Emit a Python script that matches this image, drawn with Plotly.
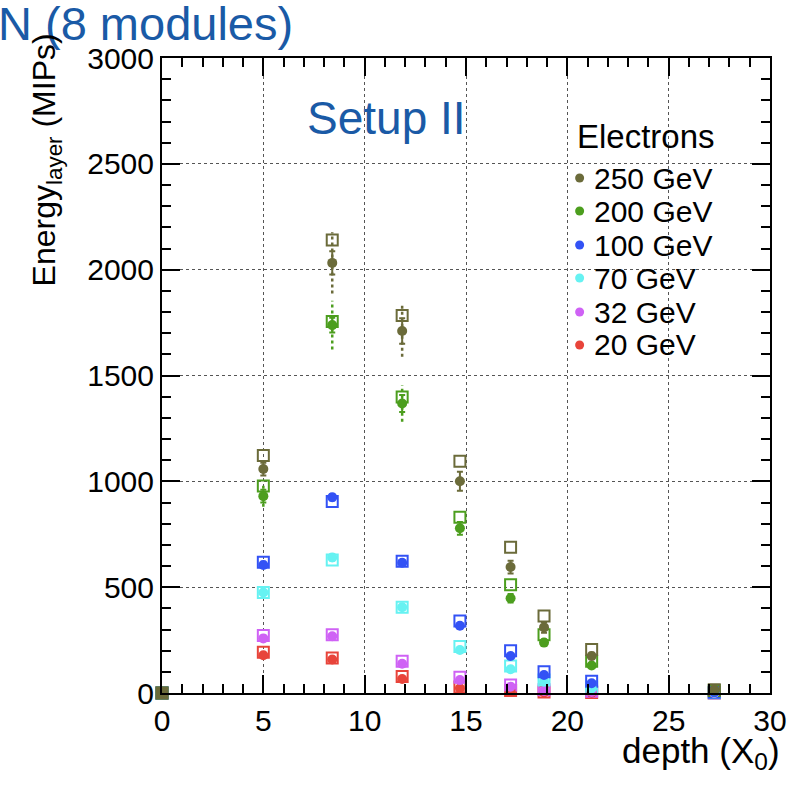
import plotly.graph_objects as go

# ---------------- data ----------------
depth = [0, 5.0, 8.4, 11.85, 14.7, 17.2, 18.85, 21.2, 27.25]

labels = ["250 GeV", "200 GeV", "100 GeV", "70 GeV", "32 GeV", "20 GeV"]
colors = ["#6b6b3a", "#4c9e1e", "#3352f5", "#66f2f2", "#cf62f5", "#e8443a"]

# measured (filled circles); None = no point
data_250 = [None, 1058, 2032, 1710, 1000, 595, 310, 175, 15]
data_200 = [None, 930, 1738, 1368, 778, 448, 238, 130, 12]
data_100 = [None, 605, 925, 615, 318, 175, 85, 46, 3]
data_70 = [None, 475, 640, 405, 203, 112, 53, 22, 1]
data_32 = [None, 258, 268, 138, 61, 30, 10, 5, 0]
data_20 = [None, 178, 158, 66, 22, 8, 3, 1, 0]

# simulation (open squares)
sim_250 = [0, 1122, 2140, 1783, 1095, 688, 364, 206, 15]
sim_200 = [0, 978, 1755, 1398, 830, 512, 275, 150, 12]
sim_100 = [0, 618, 905, 622, 340, 200, 100, 55, 3]
sim_70 = [0, 475, 628, 405, 220, 128, 62, 28, 1]
sim_32 = [0, 272, 275, 150, 75, 38, 15, 8, 0]
sim_20 = [0, 192, 165, 78, 28, 12, 5, 2, 0]

# statistical errors on measured points
err_250 = [0, 30, 55, 60, 45, 30, 25, 15, 0]
err_200 = [0, 30, 35, 40, 30, 20, 15, 10, 0]
err_100 = [0, 15, 15, 12, 10, 8, 5, 3, 0]
err_70 = [0, 12, 15, 10, 10, 8, 5, 3, 0]
err_32 = [0, 12, 10, 10, 8, 5, 3, 2, 0]
err_20 = [0, 12, 10, 8, 5, 3, 2, 1, 0]

# systematic errors (dotted)
sys_250 = [0, 0, 145, 122, 0, 0, 0, 0, 0]
sys_200 = [0, 50, 115, 86, 0, 0, 0, 0, 0]

x_ticks = [0, 5, 10, 15, 20, 25, 30]
y_ticks = [0, 500, 1000, 1500, 2000, 2500, 3000]

data_series = [data_250, data_200, data_100, data_70, data_32, data_20]
sim_series = [sim_250, sim_200, sim_100, sim_70, sim_32, sim_20]
err_series = [err_250, err_200, err_100, err_70, err_32, err_20]
sys_series = [sys_250, sys_200, None, None, None, None]

# ---------------- layout geometry ----------------
W, H = 799, 785
L, R, T, B = 162, 772, 58, 693


def px(x):
    return (x - L) / (R - L)


def py(y):
    return (B - y) / (B - T)


FONT = "Liberation Sans, Arial, sans-serif"
BLUE = "#1a5aa6"

fig = go.Figure()

order = list(range(len(labels)))[::-1]   # low energies first, 250 GeV on top

# simulation squares (drawn first, underneath)
sq_symbols = ["square"] + ["square-open"] * (len(depth) - 1)
for i in order:
    fig.add_trace(go.Scatter(
        x=depth, y=sim_series[i], mode="markers",
        marker=dict(symbol=sq_symbols, size=11, color=colors[i],
                    line=dict(width=2, color=colors[i])),
        cliponaxis=False, showlegend=False, name=labels[i] + " sim"))

# systematic dotted bars
for i in order:
    s = sys_series[i]
    if s is None:
        continue
    xs, ys = [], []
    for xv, v, e in zip(depth, data_series[i], s):
        if v is None or e == 0:
            continue
        xs += [xv, xv, None]
        ys += [v - e, v + e, None]
    fig.add_trace(go.Scatter(
        x=xs, y=ys, mode="lines",
        line=dict(color=colors[i], width=2.5, dash="dot"),
        showlegend=False, hoverinfo="skip"))

# measured circles with error bars
for i in order:
    fig.add_trace(go.Scatter(
        x=depth, y=data_series[i], mode="markers",
        marker=dict(symbol="circle", size=10, color=colors[i]),
        error_y=dict(type="data", array=err_series[i], visible=True,
                     color=colors[i], thickness=2, width=3),
        cliponaxis=False, showlegend=False, name=labels[i]))

axis_common = dict(
    showline=True, linecolor="black", linewidth=2, mirror="ticks",
    ticks="inside", ticklen=18, tickwidth=1.5, tickcolor="black",
    showgrid=True, gridcolor="#555555", gridwidth=1, griddash="dot",
    zeroline=False,
    tickfont=dict(family=FONT, size=30, color="black"),
)

fig.update_xaxes(range=[0, 30], tickvals=x_ticks,
                 minor=dict(ticks="inside", dtick=1, ticklen=9,
                            tickcolor="black", tickwidth=1.5, showgrid=False),
                 **axis_common)
fig.update_yaxes(range=[0, 3000], tickvals=y_ticks,
                 minor=dict(ticks="inside", dtick=100, ticklen=9,
                            tickcolor="black", tickwidth=1.5, showgrid=False),
                 **axis_common)

annotations = [
    dict(text="N (8 modules)", x=px(-5), y=py(24), xanchor="left",
         yanchor="middle", font=dict(family=FONT, size=47, color=BLUE)),
    dict(text="Setup II", x=px(305), y=py(118), xanchor="left",
         yanchor="middle", font=dict(family=FONT, size=46, color=BLUE)),
    dict(text="Energy<sub>layer</sub> (MIPs)", x=px(46), y=py(160),
         textangle=-90, xanchor="center", yanchor="middle",
         font=dict(family=FONT, size=32, color="black")),
    dict(text="depth (X<sub>0</sub>)", x=px(784), y=py(753),
         xanchor="right", yanchor="middle",
         font=dict(family=FONT, size=35, color="black")),
    dict(text="Electrons", x=px(576), y=py(137), xanchor="left",
         yanchor="middle", font=dict(family=FONT, size=33, color="black")),
]

shapes = [
    dict(type="rect", xref="paper", yref="paper", x0=px(565), x1=px(722),
         y0=py(360), y1=py(156), fillcolor="white", line=dict(width=0),
         layer="between"),
]

row_y = [178, 211, 245, 278, 312, 345]
for i, lab in enumerate(labels):
    annotations.append(dict(
        text=lab, x=px(593), y=py(row_y[i]), xanchor="left", yanchor="middle",
        font=dict(family=FONT, size=30, color="black")))
    shapes.append(dict(
        type="circle", xref="paper", yref="paper",
        xsizemode="pixel", ysizemode="pixel",
        xanchor=px(581), yanchor=py(row_y[i]),
        x0=-4.5, x1=4.5, y0=-4.5, y1=4.5,
        fillcolor=colors[i], line=dict(width=0)))

for a in annotations:
    a.update(xref="paper", yref="paper", showarrow=False)

fig.update_layout(
    width=W, height=H,
    margin=dict(l=L, r=W - R, t=T, b=H - B),
    paper_bgcolor="white", plot_bgcolor="white",
    annotations=annotations, shapes=shapes, showlegend=False,
)

fig.write_html("out.html")
